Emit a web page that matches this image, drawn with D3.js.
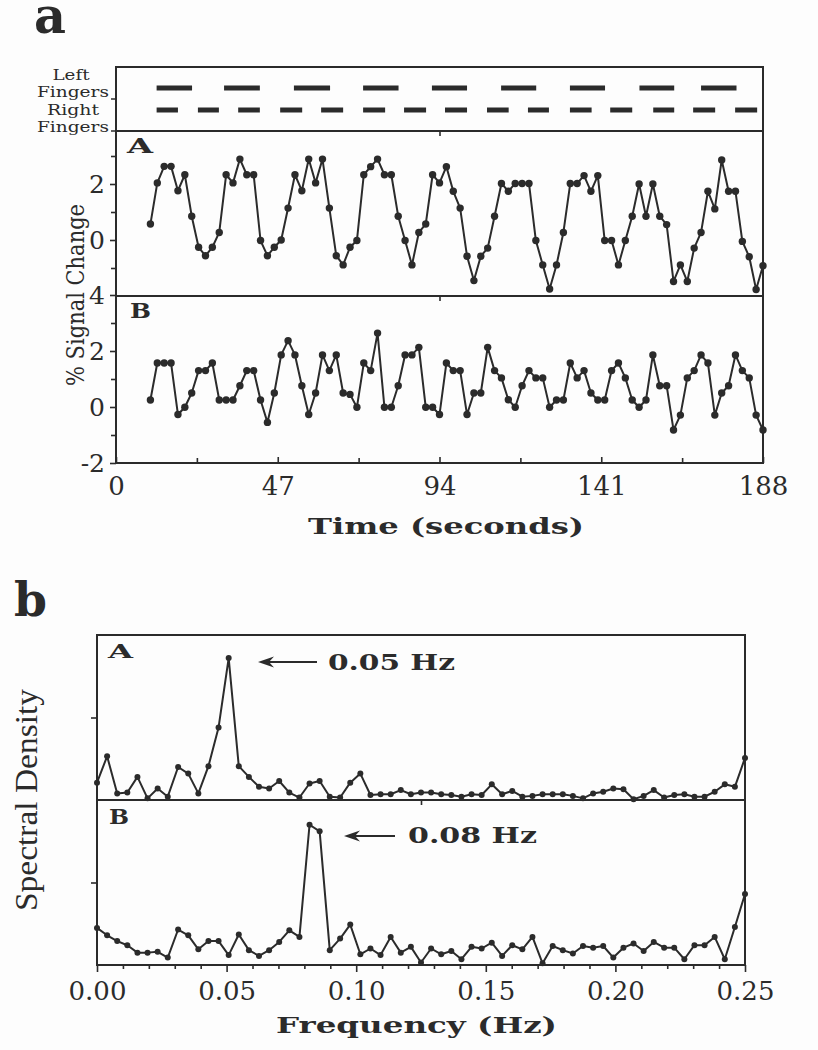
<!DOCTYPE html>
<html><head><meta charset="utf-8">
<script src="https://cdn.jsdelivr.net/npm/d3@7"></script>
<style>html,body{margin:0;padding:0;background:#fdfdfd}svg{display:block}</style>
</head><body><svg id="c" width="818" height="1050"></svg>
<script>
// ---------- data ----------
const times = [10,12,14,16,18,20,22,24,26,28,30,32,34,36,38,40,42,44,46,48,50,52,54,56,58,60,62,64,66,68,70,72,74,76,78,80,82,84,86,88,90,92,94,
  96,98,100,102,104,106,108,110,112,114,116,118,120,122,124,126,128,130,132,134,136,138,140,142,144,146,148,150,152,154,156,158,160,162,164,166,168,170,172,174,176,178,180,182,184,186,188];
const signalA = [0.57,2.04,2.63,2.63,1.76,2.33,0.85,-0.26,-0.56,-0.26,0.27,2.33,2.04,2.89,2.33,2.33,-0.02,-0.56,-0.26,0.00,1.14,2.33,1.76,2.89,2.04,2.89,1.14,-0.56,-0.89,-0.26,-0.02,2.33,2.62,2.89,2.33,2.33,0.85,-0.02,-0.89,0.27,0.57,2.33,2.04,
  2.62,1.74,1.14,-0.58,-1.45,-0.58,-0.29,0.85,2.02,1.74,2.02,2.02,2.02,-0.02,-0.89,-1.75,-0.89,0.27,2.02,2.02,2.30,1.74,2.30,-0.02,-0.02,-0.89,-0.02,0.85,2.00,0.85,2.00,0.85,0.55,-1.48,-0.89,-1.48,-0.29,0.27,1.74,1.11,2.86,1.74,1.74,-0.05,-0.60,-1.77,-0.92];
const signalB = [0.25,1.57,1.57,1.57,-0.27,-0.01,0.50,1.30,1.30,1.57,0.25,0.25,0.25,0.76,1.30,1.30,0.25,-0.55,0.50,1.86,2.37,1.86,0.76,-0.27,0.50,1.86,1.30,1.86,0.50,0.45,-0.01,1.57,1.30,2.64,-0.01,-0.01,0.76,1.86,1.86,2.13,-0.01,-0.01,-0.27,
  1.57,1.30,1.30,-0.27,0.50,0.50,2.13,1.30,1.04,0.26,-0.01,0.76,1.30,1.04,1.04,-0.01,0.25,0.25,1.57,1.04,1.30,0.50,0.25,0.25,1.30,1.57,1.04,0.25,-0.01,0.25,1.86,0.76,0.76,-0.82,-0.29,1.04,1.30,1.86,1.57,-0.29,0.50,0.76,1.86,1.30,1.04,-0.29,-0.82];
const freqs = [0,0.0039,0.0078,0.0117,0.0156,0.0195,0.0234,0.0273,0.0313,0.0352,0.0391,0.0430,0.0469,0.0508,0.0547,0.0586,0.0625,0.0664,0.0703,0.0742,0.0781,0.0820,0.0859,0.0898,0.0938,0.0977,0.1016,0.1055,0.1094,0.1133,0.1172,0.1211,0.1250,0.1289,0.1328,0.1367,0.1406,0.1445,0.1484,0.1523,0.1563,0.1602,0.1641,0.1680,0.1719,0.1758,0.1797,0.1836,0.1875,0.1914,0.1953,0.1992,0.2031,0.2070,0.2109,0.2148,0.2188,0.2227,0.2266,0.2305,0.2344,0.2383,0.2422,0.2461,0.2500];
const spectrumA = [0.21,0.53,0.08,0.09,0.28,0.02,0.14,0.04,0.40,0.32,0.08,0.41,0.88,1.72,0.41,0.28,0.16,0.14,0.23,0.09,0.03,0.20,0.23,0.04,0.03,0.21,0.32,0.06,0.07,0.07,0.12,0.07,0.09,0.09,0.07,0.06,0.04,0.07,0.06,0.19,0.07,0.11,0.04,0.05,0.07,0.07,0.07,0.05,0.02,0.08,0.10,0.14,0.13,0.01,0.05,0.12,0.03,0.06,0.07,0.04,0.04,0.10,0.19,0.16,0.51];
const spectrumB = [0.45,0.36,0.29,0.24,0.15,0.15,0.16,0.09,0.43,0.36,0.19,0.29,0.29,0.12,0.37,0.18,0.11,0.18,0.28,0.42,0.34,1.70,1.62,0.18,0.32,0.49,0.13,0.20,0.12,0.34,0.15,0.22,0.03,0.20,0.13,0.17,0.07,0.22,0.20,0.27,0.11,0.24,0.19,0.34,0.02,0.23,0.18,0.14,0.23,0.21,0.23,0.09,0.21,0.26,0.17,0.28,0.21,0.21,0.07,0.24,0.24,0.34,0.07,0.46,0.86];
const leftFingerBlocks = [[11.8,22.1],[31.4,41.8],[51.7,62.2],[71.8,82.1],[91.8,102.0],[111.9,122.1],[131.9,142.1],[152.1,162.2],[170.0,180.3]];
const rightFingerBlocks = [[11.8,18.0],[23.8,29.9],[35.5,41.8],[47.7,54.1],[59.6,66.0],[71.8,78.2],[83.7,90.1],[95.6,102.0],[107.8,114.1],[119.7,125.8],[131.9,138.2],[143.6,150.0],[156.1,162.2],[167.7,174.1],[179.9,186.3]];
const timeTickLabels = [0,47,94,141,188];
const timeMinorTicks = [23.5,70.5,117.5,164.5];
const signalLabelsA = [2,0];
const signalLabelsB = [4,2,0,-2];
const signalMinor = [3,1,-1];
const freqTickValues = [0,0.05,0.10,0.15,0.20,0.25];
const freqTickLabels = ["0.00","0.05","0.10","0.15","0.20","0.25"];
const freqMinorTicks = [0.01,0.02,0.03,0.04,0.06,0.07,0.08,0.09,0.11,0.12,0.13,0.14,0.16,0.17,0.18,0.19,0.21,0.22,0.23,0.24];

// ---------- drawing ----------
const ink = "#2b2b2b";
const svg = d3.select("#c");
svg.append("rect").attr("width",818).attr("height",1050).attr("fill","#fdfdfd");

const x  = d3.scaleLinear().domain([0,188]).range([116,763]);
const yA = d3.scaleLinear().domain([-2,4]).range([296,128]);
const yB = d3.scaleLinear().domain([-2,4]).range([463,295]);
const fx = d3.scaleLinear().domain([0,0.25]).range([97,745]);
const sA = d3.scaleLinear().domain([0,2]).range([800,635]);
const sB = d3.scaleLinear().domain([0,2]).range([965,800]);

function label(g, s, px, py, o) {
  o = o || {};
  const t = g.append("text").text(s).attr("x",px).attr("y",py)
    .attr("fill",ink)
    .attr("font-family", o.family || "DejaVu Serif")
    .attr("font-size", o.size || 20)
    .attr("font-weight", o.weight || "normal")
    .attr("text-anchor", o.anchor || "start");
  if (o.len) t.attr("textLength", o.len).attr("lengthAdjust","spacingAndGlyphs");
  if (o.rotate) t.attr("transform", `rotate(${o.rotate},${px},${py})`);
  return t;
}

// panel letters
label(svg, "a", 34, 33, {size:50, weight:"bold", len:32});
label(svg, "b", 14, 616, {size:47, weight:"bold", len:33});

// ----- panel a frames -----
const fr = svg.append("g").attr("fill","none").attr("stroke",ink).attr("stroke-width",2);
fr.append("rect").attr("x",x(0)).attr("y",67).attr("width",x(188)-x(0)).attr("height",463-67);
fr.append("line").attr("x1",x(0)).attr("x2",x(188)).attr("y1",131).attr("y2",131);
fr.append("line").attr("x1",x(0)).attr("x2",x(188)).attr("y1",296).attr("y2",296);

// finger labels
label(svg, "Left", 71, 80, {size:14, anchor:"middle", len:37});
label(svg, "Fingers", 73, 97, {size:14, anchor:"middle", len:72});
label(svg, "Right", 73, 115, {size:14, anchor:"middle", len:52});
label(svg, "Fingers", 73, 132, {size:14, anchor:"middle", len:72});
[99,131].forEach(yy => svg.append("line").attr("x1",111).attr("x2",116).attr("y1",yy).attr("y2",yy).attr("stroke",ink).attr("stroke-width",1.5));

// finger blocks
svg.append("g").selectAll("line").data(leftFingerBlocks).join("line")
  .attr("x1",d=>x(d[0])).attr("x2",d=>x(d[1])).attr("y1",88).attr("y2",88)
  .attr("stroke",ink).attr("stroke-width",5);
svg.append("g").selectAll("line").data(rightFingerBlocks).join("line")
  .attr("x1",d=>x(d[0])).attr("x2",d=>x(d[1])).attr("y1",110).attr("y2",110)
  .attr("stroke",ink).attr("stroke-width",5);

function styleAxis(g, fs) {
  g.select(".domain").remove();
  g.selectAll("line").attr("stroke",ink).attr("stroke-width",1.6);
  g.selectAll("text").attr("fill",ink).attr("font-family","DejaVu Serif").attr("font-size",fs||26);
}

// y axes panel a
styleAxis(svg.append("g").attr("transform",`translate(${x(0)},0)`)
  .call(d3.axisLeft(yA).tickValues(signalLabelsA).tickSize(6).tickPadding(5).tickFormat(d=>String(d))), 25);
styleAxis(svg.append("g").attr("transform",`translate(${x(0)},0)`)
  .call(d3.axisLeft(yA).tickValues(signalMinor).tickSize(5).tickFormat("")));
styleAxis(svg.append("g").attr("transform",`translate(${x(0)},0)`)
  .call(d3.axisLeft(yB).tickValues(signalLabelsB).tickSize(6).tickPadding(5).tickFormat(d=>String(d))), 25);
styleAxis(svg.append("g").attr("transform",`translate(${x(0)},0)`)
  .call(d3.axisLeft(yB).tickValues(signalMinor).tickSize(5).tickFormat("")));

// x axis time
styleAxis(svg.append("g").attr("transform","translate(0,463)")
  .call(d3.axisBottom(x).tickValues(timeTickLabels).tickSize(-6).tickPadding(14).tickFormat(d=>String(d))), 26);
styleAxis(svg.append("g").attr("transform","translate(0,463)")
  .call(d3.axisBottom(x).tickValues(timeMinorTicks).tickSize(-5).tickFormat("")));
styleAxis(svg.append("g").attr("transform","translate(0,296)")
  .call(d3.axisBottom(x).tickValues([94]).tickSize(5).tickFormat("")));
styleAxis(svg.append("g").attr("transform","translate(0,131)")
  .call(d3.axisBottom(x).tickValues([94]).tickSize(5).tickFormat("")));

// panel labels
label(svg, "A", 127, 153, {size:21, weight:"bold", len:26});
label(svg, "B", 130, 318, {size:21, weight:"bold", len:21});

// time series
const tsA = times.map((t,i)=>({t, v:signalA[i]}));
const tsB = times.map((t,i)=>({t, v:signalB[i]}));
function series(data, xs, ys, xk, r) {
  const g = svg.append("g");
  g.append("path").datum(data)
    .attr("d", d3.line().x(d=>xs(d[xk])).y(d=>ys(d.v)))
    .attr("fill","none").attr("stroke",ink).attr("stroke-width",2).attr("stroke-linejoin","round");
  g.selectAll("circle").data(data).join("circle")
    .attr("cx",d=>xs(d[xk])).attr("cy",d=>ys(d.v)).attr("r",r).attr("fill",ink);
}
series(tsA, x, yA, "t", 3.7);
series(tsB, x, yB, "t", 3.7);

label(svg, "Time (seconds)", 308, 534, {size:23, weight:"bold", len:276});
label(svg, "% Signal Change", 84, 295, {size:24, anchor:"middle", len:182, rotate:-90});

// ----- panel b -----
const fr2 = svg.append("g").attr("fill","none").attr("stroke",ink).attr("stroke-width",2);
fr2.append("rect").attr("x",fx(0)).attr("y",sA(2)).attr("width",fx(0.25)-fx(0)).attr("height",sB(0)-sA(2));
fr2.append("line").attr("x1",fx(0)).attr("x2",fx(0.25)).attr("y1",sA(0)).attr("y2",sA(0));

styleAxis(svg.append("g").attr("transform",`translate(${fx(0)},0)`)
  .call(d3.axisLeft(sA).tickValues([1]).tickSize(6).tickFormat("")));
styleAxis(svg.append("g").attr("transform",`translate(${fx(0)},0)`)
  .call(d3.axisLeft(sB).tickValues([1]).tickSize(6).tickFormat("")));
styleAxis(svg.append("g").attr("transform",`translate(0,${sB(0)})`)
  .call(d3.axisBottom(fx).tickValues(freqTickValues).tickSize(7).tickPadding(10).tickFormat((d,i)=>freqTickLabels[i])), 26);
styleAxis(svg.append("g").attr("transform",`translate(0,${sB(0)})`)
  .call(d3.axisBottom(fx).tickValues(freqMinorTicks).tickSize(4).tickFormat("")));
styleAxis(svg.append("g").attr("transform",`translate(0,${sA(0)})`)
  .call(d3.axisBottom(fx).tickValues([0.125]).tickSize(5).tickFormat("")));

label(svg, "A", 108, 658, {size:19, weight:"bold", len:25});
label(svg, "B", 109, 824, {size:21, weight:"bold", len:20});

const spA = freqs.map((f,i)=>({f, v:spectrumA[i]}));
const spB = freqs.map((f,i)=>({f, v:spectrumB[i]}));
series(spA, fx, sA, "f", 3.0);
series(spB, fx, sB, "f", 3.0);

function arrow(tipX, y, endX) {
  const g = svg.append("g");
  g.append("line").attr("x1",tipX+8).attr("x2",endX).attr("y1",y).attr("y2",y).attr("stroke",ink).attr("stroke-width",2);
  g.append("path").attr("d",`M${tipX},${y} L${tipX+16},${y-5.5} L${tipX+11},${y} L${tipX+16},${y+5.5} Z`).attr("fill",ink);
}
arrow(258, 662, 317);
arrow(344, 836, 395);
label(svg, "0.05 Hz", 328, 670, {size:22, weight:"bold", len:127});
label(svg, "0.08 Hz", 408, 843, {size:22, weight:"bold", len:129});

label(svg, "Frequency (Hz)", 276, 1033, {size:23, weight:"bold", len:281});
label(svg, "Spectral Density", 37, 800, {size:32, family:"Liberation Serif", anchor:"middle", len:222, rotate:-90});
</script></body></html>
